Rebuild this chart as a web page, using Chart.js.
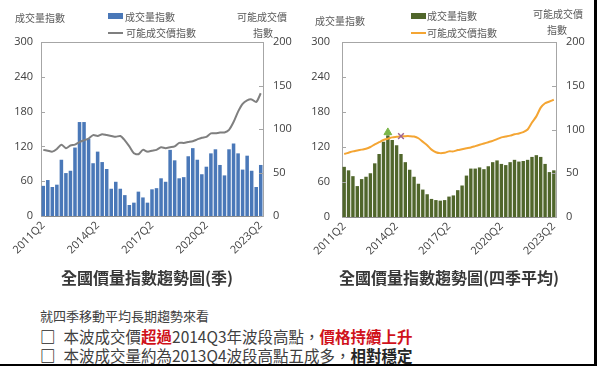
<!DOCTYPE html>
<html lang="zh-Hant">
<head>
<meta charset="UTF-8">
<title>全國價量指數趨勢圖</title>
<script src="https://cdn.jsdelivr.net/npm/chart.js"></script>
<style>
    body {
        margin: 0;
        width: 597px;
        height: 366px;
        position: relative;
        overflow: hidden;
        background: #fff;
        font-family: "Noto Sans CJK TC", sans-serif;
    }
    .box { position: absolute; top: 0; height: 270px; }
    .small { position: absolute; font-size: 10px; color: #595959; white-space: nowrap; line-height: 12px; }
    .legBar { position: absolute; width: 15px; height: 6px; }
    .legLine { position: absolute; width: 15px; height: 2px; }
    .title { position: absolute; top: 266px; font-size: 16px; font-weight: bold; color: #383838; transform: translateX(-50%); white-space: nowrap; line-height: 22px; }
    .note { position: absolute; left: 40px; font-size: 15.5px; color: #404040; white-space: nowrap; line-height: 20px; }
    .red { color: #d0121b; font-weight: bold; }
    .bold { font-weight: bold; color: #262626; }
    .chk { font-weight: bold; color: #262626; margin-right: 8px; }
</style>
</head>
<body>

<!-- left chart: quarterly -->
<div class="box" style="left:0; width:298px;"><canvas id="chartQ"></canvas></div>
<div class="small" style="left:15px; top:12px;">成交量指數</div>
<div class="legBar" style="left:108px; top:13px; background:#4a78b8;"></div>
<div class="small" style="left:125px; top:11px;">成交量指數</div>
<div class="legLine" style="left:108px; top:32px; background:#7f7f7f;"></div>
<div class="small" style="left:126px; top:27px;">可能成交價指數</div>
<div class="small" style="left:237px; top:11px;">可能成交價</div>
<div class="small" style="left:253px; top:27px;">指數</div>

<!-- right chart: 4-quarter average -->
<div class="box" style="left:298px; width:299px;"><canvas id="chart4Q"></canvas></div>
<div class="small" style="left:315px; top:15px;">成交量指數</div>
<div class="legBar" style="left:411px; top:13px; background:#50662b;"></div>
<div class="small" style="left:427px; top:10px;">成交量指數</div>
<div class="legLine" style="left:411px; top:32px; background:#f4a533;"></div>
<div class="small" style="left:427px; top:27px;">可能成交價指數</div>
<div class="small" style="left:533px; top:8px;">可能成交價</div>
<div class="small" style="left:547px; top:24px;">指數</div>

<div class="title" style="left:147px;">全國價量指數趨勢圖(季)</div>
<div class="title" style="left:449px;">全國價量指數趨勢圖(四季平均)</div>

<div class="note" style="top:306px; font-size:13px;">就四季移動平均長期趨勢來看</div>
<div class="note" style="top:326px;"><span class="chk">□</span>本波成交價<span class="red">超過</span>2014Q3年波段高點，<span class="red">價格持續上升</span></div>
<div class="note" style="top:345px;"><span class="chk">□</span>本波成交量約為2013Q4波段高點五成多，<span class="bold">相對穩定</span></div>

<div style="position:absolute; left:594px; top:0; width:3px; height:366px; background:#000;"></div>
<div style="position:absolute; left:0; top:364px; width:597px; height:2px; background:#000;"></div>

<script>
    const quarters = [
        "2011Q2","2011Q3","2011Q4","2012Q1","2012Q2","2012Q3","2012Q4","2013Q1","2013Q2","2013Q3",
        "2013Q4","2014Q1","2014Q2","2014Q3","2014Q4","2015Q1","2015Q2","2015Q3","2015Q4","2016Q1",
        "2016Q2","2016Q3","2016Q4","2017Q1","2017Q2","2017Q3","2017Q4","2018Q1","2018Q2","2018Q3",
        "2018Q4","2019Q1","2019Q2","2019Q3","2019Q4","2020Q1","2020Q2","2020Q3","2020Q4","2021Q1",
        "2021Q2","2021Q3","2021Q4","2022Q1","2022Q2","2022Q3","2022Q4","2023Q1","2023Q2"
    ];
    const tickLabels = ["2011Q2", "2014Q2", "2017Q2", "2020Q2", "2023Q2"];

    // quarterly
    const volumeQ = [52,62,50,54,97,74,78,118,162,162,133,91,111,93,81,47,59,47,36,19,
                     23,42,32,23,46,48,65,59,114,96,65,67,103,117,97,72,85,108,115,88,
                     70,115,125,108,80,104,78,50,88];
    const priceQ = [76,75,74,77,82,78,81,82,85,87,89,93,92,94,93,92,91,92,87,80,
                    72,71,76,74,75,76,79,78,79,80,84,84,85,86,88,90,91,95,95,96,
                    96,99,108,120,129,133,134,131,141];

    // four-quarter moving average
    const volume4Q = [86,80,70,53,65,69,75,92,108,129,140,132,123,108,94,81,69,57,47,39,
                      31,29,28,29,35,37,46,54,71,83,83,85,82,87,94,97,91,89,94,98,
                      95,96,98,103,106,103,91,77,80];
    const price4Q = [72,73.5,75,76,77,78,80,83,85.5,88,89.5,91,91.6,92.2,92.4,92.4,92,90,86,82,
                     77,74,73,73.5,75,75,76.5,77.5,78.5,79.5,81,82.5,84,85.5,87,89,91,92,93,94.5,
                     95.5,97,100,108,115,125,130,132,134];

    const volumePeak = [{ x: "2013Q4", y: 145 }];
    const pricePeak = [{ x: "2014Q3", y: 92.4 }];

    const frame = {
        id: "frame",
        afterDraw(chart) {
            const { ctx, chartArea: a, scales } = chart;
            ctx.save();
            ctx.strokeStyle = "#a6a6a6";
            ctx.lineWidth = 1;
            ctx.beginPath();
            ctx.moveTo(a.left, a.top + 0.5);
            ctx.lineTo(a.right, a.top + 0.5);
            scales.y.ticks.forEach(t => {
                const y = Math.round(scales.y.getPixelForValue(t.value)) + 0.5;
                ctx.moveTo(a.left, y);
                ctx.lineTo(a.left + 4, y);
            });
            scales.y1.ticks.forEach(t => {
                const y = Math.round(scales.y1.getPixelForValue(t.value)) + 0.5;
                ctx.moveTo(a.right - 4, y);
                ctx.lineTo(a.right, y);
            });
            ctx.stroke();
            ctx.restore();
        }
    };

    const tickFont = { family: "'Open Sans', 'Noto Sans CJK TC', sans-serif", size: 11 };

    function makeChart(id, bars, line, barColor, lineColor, sizes, extra) {
        const datasets = [
            {
                type: "line",
                data: line,
                yAxisID: "y1",
                borderColor: lineColor,
                borderWidth: 2,
                pointRadius: 0,
                tension: 0.25,
                order: 1
            },
            {
                type: "bar",
                data: bars,
                yAxisID: "y",
                backgroundColor: barColor,
                barPercentage: 0.78,
                categoryPercentage: 1,
                order: 2
            }
        ].concat(extra);

        new Chart(document.getElementById(id), {
            data: { labels: quarters, datasets: datasets },
            options: {
                responsive: true,
                maintainAspectRatio: false,
                animation: false,
                layout: { padding: { top: 42, left: 0, right: 0, bottom: 0 } },
                plugins: { legend: { display: false }, tooltip: { enabled: false } },
                scales: {
                    x: {
                        grid: { display: false, drawTicks: false },
                        border: { color: "#8c8c8c" },
                        ticks: {
                            autoSkip: false,
                            maxRotation: 45,
                            minRotation: 45,
                            padding: 3,
                            color: "#404040",
                            font: tickFont,
                            callback: (v, i) => tickLabels.includes(quarters[i]) ? quarters[i] : ""
                        },
                        afterFit: s => { s.height = sizes.xh; }
                    },
                    y: {
                        position: "left",
                        min: 0, max: 300,
                        grid: { display: false, drawTicks: false },
                        border: { color: "#a6a6a6" },
                        ticks: { stepSize: 60, padding: sizes.lp, color: "#404040", font: tickFont },
                        afterFit: s => { s.width = sizes.lw; }
                    },
                    y1: {
                        position: "right",
                        min: 0, max: 200,
                        grid: { display: false, drawTicks: false },
                        border: { color: "#a6a6a6" },
                        ticks: { stepSize: 50, padding: sizes.rp, color: "#404040", font: tickFont },
                        afterFit: s => { s.width = sizes.rw; }
                    }
                }
            },
            plugins: [frame]
        });
    }

    makeChart("chartQ", volumeQ, priceQ, "#4a78b8", "#7f7f7f",
        { lw: 41, rw: 35, xh: 54, lp: 8, rp: 10 }, []);

    makeChart("chart4Q", volume4Q, price4Q, "#50662b", "#f4a533",
        { lw: 44, rw: 41, xh: 53, lp: 12, rp: 10 },
        [
            {
                type: "line",
                data: volumePeak,
                yAxisID: "y",
                showLine: false,
                pointStyle: "triangle",
                pointRadius: 4.5,
                backgroundColor: "#7ab648",
                borderColor: "#7ab648",
                order: 0
            },
            {
                type: "line",
                data: pricePeak,
                yAxisID: "y1",
                showLine: false,
                pointStyle: "crossRot",
                pointRadius: 4,
                borderColor: "#a0668f",
                borderWidth: 1.5,
                order: 0
            }
        ]);
</script>
</body>
</html>
